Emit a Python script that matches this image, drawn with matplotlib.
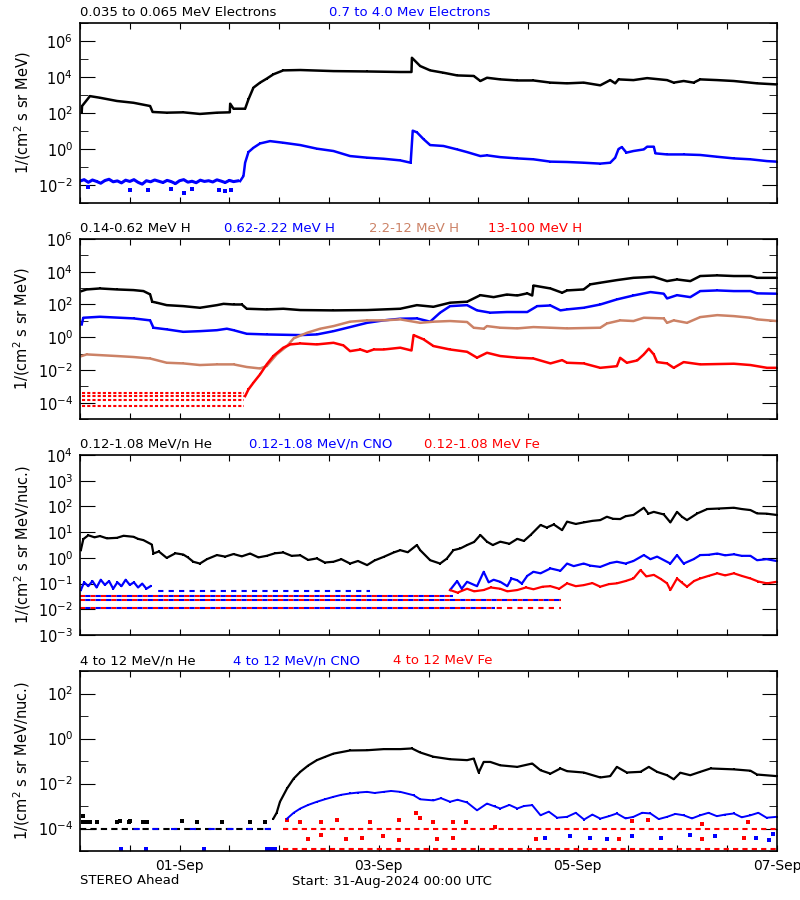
import numpy as np
import pandas as pd
import matplotlib
matplotlib.use('Agg')
import matplotlib.pyplot as plt
import matplotlib.dates as mdates
import matplotlib.ticker as mticker

# time range of the plot
start = pd.Timestamp('2024-08-31 00:00')
end = pd.Timestamp('2024-09-07 00:00')
date_labels = ['01-Sep', '03-Sep', '05-Sep', '07-Sep']

# all series: (hours since start, log10 of flux)

# --- panel 1: electrons
e_low = [(0.4, 2.02), (0.5, 2.39), (2.4, 2.94), (4.8, 2.85), (8.9, 2.67), (12.9, 2.57),
         (16.9, 2.39), (17.5, 2.06), (20.9, 2.02), (24.9, 2.04), (28.9, 1.95), (33.0, 2.02),
         (36.1, 2.04), (36.2, 2.52), (37.0, 2.24), (39.8, 2.24), (40.6, 2.76), (41.8, 3.41),
         (43.4, 3.69), (45.0, 3.91), (46.6, 4.15), (49.0, 4.37), (53.1, 4.39), (61.1, 4.33),
         (69.2, 4.31), (77.2, 4.28), (79.9, 4.28), (80.0, 5.07), (82.0, 4.61), (84.4, 4.37),
         (87.6, 4.24), (90.9, 4.09), (94.9, 4.06), (96.5, 3.78), (98.1, 3.96), (101.3, 3.87),
         (105.4, 3.81), (109.3, 3.81), (113.4, 3.69), (117.4, 3.65), (121.4, 3.69), (125.4, 3.54),
         (127.8, 3.83), (129.0, 3.65), (129.8, 3.87), (133.4, 3.83), (136.7, 3.94), (141.5, 3.83),
         (143.1, 3.69), (145.5, 3.78), (147.9, 3.69), (149.5, 3.87), (153.6, 3.83), (157.6, 3.78),
         (163.2, 3.65), (167.9, 3.59)]
e_high_bg = [(0, -1.78), (1, -1.70), (2, -1.85), (3, -1.72), (4, -1.80), (5, -1.90), (6, -1.75),
             (7, -1.68), (8, -1.82), (9, -1.77), (10, -1.88), (11, -1.73), (12, -1.80), (13, -1.70),
             (14, -1.85), (15, -1.95), (16, -1.76), (17, -1.82), (18, -1.72), (19, -1.79),
             (20, -1.86), (21, -1.74), (22, -1.81), (23, -1.92), (24, -1.76), (25, -1.70),
             (26, -1.84), (27, -1.79), (28, -1.87), (29, -1.73), (30, -1.80), (31, -1.76),
             (32, -1.83), (33, -1.71), (34, -1.78), (35, -1.86), (36, -1.74), (37, -1.81),
             (38, -1.77)]
e_high_out = [(2, -2.10), (12, -2.30), (16.5, -2.25), (22, -2.20), (25, -2.45), (27, -2.20),
              (33.5, -2.30), (35, -2.35), (36.5, -2.30)]
e_high = [(38.6, -1.78), (39.4, -1.50), (39.8, -0.76), (40.6, -0.17), (41.8, 0.07), (43.4, 0.31),
          (45.8, 0.44), (49.0, 0.35), (53.1, 0.22), (57.1, 0.02), (61.1, -0.11), (65.1, -0.39),
          (69.2, -0.48), (73.2, -0.54), (77.2, -0.63), (79.7, -0.76), (80.2, 1.02), (81.2, 0.93),
          (82.8, 0.55), (84.4, 0.22), (87.6, 0.17), (90.9, -0.02), (93.3, -0.17), (96.5, -0.39),
          (98.1, -0.35), (101.3, -0.45), (105.4, -0.52), (109.3, -0.57), (113.4, -0.70),
          (117.4, -0.72), (121.4, -0.76), (125.4, -0.81), (127.8, -0.76), (129.0, -0.48),
          (129.8, 0.0), (130.6, 0.11), (131.7, -0.20), (133.4, -0.11), (135.9, -0.02),
          (136.7, 0.13), (138.3, 0.13), (138.7, -0.24), (141.5, -0.30), (145.5, -0.30),
          (149.5, -0.33), (153.6, -0.43), (157.6, -0.52), (161.6, -0.57), (165.6, -0.67),
          (167.9, -0.70)]

# --- panel 2: protons
h_low = [(0.4, 2.82), (1.6, 2.92), (4.8, 2.98), (8.9, 2.92), (12.9, 2.88), (15.3, 2.82),
         (16.9, 2.62), (17.4, 2.17), (18.5, 2.11), (20.9, 1.96), (24.9, 1.90), (28.9, 1.80),
         (33.0, 1.96), (34.6, 2.04), (37.0, 2.00), (39.0, 2.00), (40.2, 1.74), (45.0, 1.70),
         (49.0, 1.74), (53.1, 1.66), (61.1, 1.64), (69.2, 1.66), (77.2, 1.74), (81.2, 1.96),
         (85.2, 1.86), (89.2, 2.11), (93.3, 2.17), (96.5, 2.57), (99.7, 2.45), (102.9, 2.61),
         (105.4, 2.55), (107.8, 2.68), (109.0, 2.55), (109.3, 3.16), (113.4, 2.98), (116.2, 2.72),
         (117.4, 2.86), (121.4, 2.92), (123.0, 3.23), (125.4, 3.33), (129.4, 3.49), (133.4, 3.63),
         (138.3, 3.69), (141.5, 3.43), (143.9, 3.53), (147.1, 3.43), (149.5, 3.74), (153.6, 3.78),
         (157.6, 3.74), (161.6, 3.74), (163.2, 3.63), (167.9, 3.63)]
h_mid = [(0.4, 0.78), (0.8, 1.19), (4.8, 1.25), (12.9, 1.15), (16.9, 1.03), (17.7, 0.58),
         (20.9, 0.48), (24.9, 0.33), (28.9, 0.37), (33.0, 0.43), (35.4, 0.52), (37.0, 0.43),
         (40.2, 0.21), (45.0, 0.17), (53.1, 0.13), (57.1, 0.17), (61.1, 0.37), (65.1, 0.62),
         (69.2, 0.88), (73.2, 1.03), (77.2, 1.13), (81.2, 1.15), (84.4, 0.95), (86.8, 1.50),
         (89.2, 1.90), (93.3, 1.96), (95.7, 1.64), (98.9, 1.50), (102.9, 1.54), (107.8, 1.54),
         (110.2, 1.90), (113.4, 1.94), (115.8, 1.64), (117.4, 1.70), (121.4, 1.80), (125.4, 2.00),
         (129.4, 2.31), (133.4, 2.55), (137.5, 2.76), (140.7, 2.66), (141.5, 2.37), (143.9, 2.57),
         (147.1, 2.45), (149.5, 2.82), (153.6, 2.86), (157.6, 2.82), (161.6, 2.82), (163.2, 2.68),
         (167.9, 2.66)]
h_high = [(0.4, -1.15), (1.6, -1.05), (8.9, -1.15), (12.9, -1.21), (16.9, -1.30), (20.9, -1.56),
          (24.9, -1.60), (28.9, -1.70), (33.0, -1.66), (37.0, -1.66), (40.2, -1.82), (43.4, -1.91),
          (45.0, -1.76), (47.4, -1.05), (49.9, -0.54), (51.5, -0.07), (54.7, 0.27), (57.9, 0.52),
          (61.1, 0.68), (65.1, 0.95), (69.2, 1.03), (73.2, 1.03), (77.2, 1.09), (82.0, 0.88),
          (85.2, 0.95), (89.2, 0.99), (93.3, 0.93), (94.9, 0.58), (97.3, 0.52), (98.1, 0.68),
          (101.3, 0.58), (105.4, 0.54), (109.3, 0.62), (113.4, 0.58), (117.4, 0.54), (125.4, 0.58),
          (127.0, 0.84), (130.2, 1.03), (133.4, 0.99), (135.9, 1.19), (140.7, 1.15), (141.5, 0.88),
          (143.1, 1.03), (146.3, 0.88), (149.5, 1.23), (153.6, 1.35), (157.6, 1.29), (161.6, 1.19),
          (163.2, 1.09), (167.9, 0.99)]
h_top = [(39.8, -3.60), (40.6, -3.19), (41.8, -2.78), (43.4, -2.27), (45.0, -1.66), (46.6, -1.15),
         (49.0, -0.64), (50.7, -0.44), (53.1, -0.38), (57.1, -0.44), (61.1, -0.34), (63.5, -0.50),
         (65.1, -0.85), (67.6, -0.75), (69.2, -0.89), (70.8, -0.75), (73.2, -0.75), (77.2, -0.64),
         (79.9, -0.81), (80.4, 0.13), (82.8, -0.13), (85.2, -0.54), (89.2, -0.75), (93.3, -0.89),
         (95.7, -1.25), (98.1, -0.95), (101.3, -1.15), (105.4, -1.25), (109.3, -1.30),
         (113.4, -1.60), (116.2, -1.40), (117.4, -1.56), (121.4, -1.60), (125.4, -1.87),
         (129.4, -1.77), (130.2, -1.26), (131.8, -1.56), (134.3, -1.42), (135.9, -1.05),
         (137.1, -0.70), (138.3, -1.05), (139.1, -1.52), (141.5, -1.60), (143.1, -1.87),
         (145.5, -1.52), (149.5, -1.66), (157.6, -1.62), (161.6, -1.70), (165.6, -1.87),
         (167.9, -1.87)]
# one-count levels (level, from hour, to hour)
h_top_floor = [(-3.43, 0.4, 39.5), (-3.60, 0.4, 39.5), (-3.82, 0.4, 39.5), (-4.19, 0.4, 39.5)]

# --- panel 3: low energy ions
he_low = [(0.2, 0.30), (0.8, 0.73), (2.0, 0.88), (3.5, 0.80), (4.8, 0.85), (6.5, 0.76), (8.9, 0.78),
          (10.5, 0.86), (12.9, 0.82), (14.0, 0.74), (15.3, 0.69), (17.3, 0.52), (17.7, 0.17),
          (19.0, 0.25), (20.9, 0.0), (23.0, 0.18), (24.9, 0.13), (26.0, 0.02), (27.3, -0.15),
          (28.9, -0.22), (30.6, -0.05), (33.0, 0.11), (35.0, 0.05), (37.0, 0.15), (39.0, 0.06),
          (41.0, 0.17), (43.0, 0.02), (45.0, 0.08), (47.0, 0.18), (49.0, 0.21), (51.0, 0.08),
          (53.1, 0.10), (55.0, -0.08), (57.1, -0.02), (59.0, -0.18), (61.1, -0.15), (63.0, -0.05),
          (65.1, -0.22), (67.0, -0.12), (69.2, -0.28), (71.0, -0.10), (73.2, 0.04), (75.6, 0.21),
          (77.2, 0.30), (79.0, 0.22), (81.2, 0.50), (82.0, 0.30), (84.4, -0.09), (86.8, -0.22),
          (88.4, -0.03), (90.0, 0.30), (91.7, 0.37), (93.3, 0.50), (95.0, 0.62), (96.5, 0.89),
          (98.1, 0.63), (99.5, 0.50), (101.3, 0.63), (103.5, 0.55), (105.4, 0.74), (107.0, 0.66),
          (108.6, 0.89), (111.0, 1.28), (112.5, 1.18), (114.2, 1.30), (116.2, 1.08), (117.4, 1.41),
          (119.5, 1.32), (121.4, 1.38), (123.5, 1.44), (125.4, 1.47), (127.0, 1.60), (128.5, 1.52),
          (130.2, 1.51), (131.5, 1.62), (133.4, 1.67), (135.9, 1.95), (137.0, 1.72), (138.3, 1.79),
          (140.7, 1.69), (142.3, 1.38), (143.9, 1.79), (145.1, 1.60), (146.3, 1.47), (148.8, 1.73),
          (151.2, 1.90), (154.0, 1.92), (157.6, 1.95), (159.5, 1.90), (161.6, 1.86), (163.2, 1.73),
          (165.5, 1.72), (167.9, 1.67)]
cno_low = [(0.2, -1.25), (1, -0.95), (2, -1.10), (3, -0.90), (4, -1.15), (5, -0.85), (6, -1.05),
           (7, -0.90), (8, -1.20), (9, -0.95), (10, -1.10), (11, -0.85), (12, -1.05), (13, -0.95),
           (14, -1.15), (15, -1.00), (16, -1.20), (17, -1.10)]
cno_low_late = [(89.2, -1.25), (90.9, -0.90), (92.0, -1.20), (93.3, -0.93), (95.7, -1.10),
                (97.3, -0.54), (98.5, -0.95), (99.7, -0.85), (101.3, -0.93), (103.0, -1.10),
                (104.0, -0.80), (105.4, -0.87), (106.5, -1.00), (107.8, -0.70), (109.3, -0.54),
                (111.0, -0.60), (113.4, -0.41), (115.8, -0.50), (117.4, -0.22), (119.0, -0.32),
                (121.4, -0.22), (123.0, -0.30), (125.4, -0.35), (127.8, -0.20), (129.4, -0.15),
                (131.5, -0.22), (133.4, -0.12), (135.9, 0.11), (137.5, -0.05), (139.1, 0.05),
                (142.3, -0.22), (143.9, 0.11), (145.5, -0.22), (147.9, -0.05), (149.5, 0.11),
                (151.5, 0.12), (153.6, 0.17), (155.5, 0.10), (157.6, 0.14), (159.5, 0.08),
                (161.6, 0.08), (163.2, -0.09), (165.5, -0.05), (167.9, -0.12)]
fe_low = [(89.2, -1.25), (91.0, -1.35), (93.3, -1.20), (95.0, -1.30), (97.3, -1.25), (99.0, -1.15),
          (101.3, -1.20), (103.0, -1.30), (105.4, -1.25), (107.5, -1.15), (109.3, -1.22),
          (111.5, -1.12), (113.4, -1.10), (115.5, -1.20), (117.4, -0.99), (119.5, -1.10),
          (121.4, -1.06), (123.5, -0.98), (125.4, -1.12), (127.5, -1.02), (129.4, -0.99),
          (131.5, -0.90), (133.4, -0.80), (135.1, -0.47), (136.5, -0.72), (138.3, -0.66),
          (140.0, -0.82), (141.5, -0.99), (142.3, -1.25), (143.9, -0.80), (145.0, -0.95),
          (146.3, -1.12), (148.0, -0.90), (149.5, -0.80), (151.5, -0.70), (153.6, -0.60),
          (155.5, -0.68), (157.6, -0.60), (159.5, -0.70), (161.6, -0.80), (163.5, -0.92),
          (165.6, -0.99), (167.9, -0.93)]
fe_low_floor = [(-1.47, 0.0, 90.0), (-1.62, 0.0, 116.0), (-1.94, 0.0, 116.0)]
cno_low_floor = [(-1.28, 17.5, 70.0), (-1.47, 0.0, 90.0), (-1.62, 0.0, 116.0), (-1.94, 0.0, 100.0)]

# --- panel 4: high energy ions
he_high = [(46.6, -3.56), (47.4, -3.30), (48.2, -2.81), (49.9, -2.22), (51.5, -1.78), (53.1, -1.48),
           (55.0, -1.20), (57.1, -0.96), (59.0, -0.82), (61.1, -0.67), (65.1, -0.53), (69.2, -0.52),
           (73.2, -0.47), (77.2, -0.47), (80.0, -0.44), (82.0, -0.62), (85.2, -0.81), (89.2, -0.92),
           (93.3, -0.96), (94.9, -0.89), (96.1, -1.51), (97.3, -1.04), (98.9, -1.04), (101.3, -1.19),
           (105.4, -1.26), (109.0, -1.11), (111.0, -1.41), (113.4, -1.56), (115.8, -1.33),
           (117.4, -1.45), (121.4, -1.51), (125.4, -1.73), (127.8, -1.67), (129.4, -1.26),
           (131.8, -1.51), (135.1, -1.48), (137.1, -1.26), (139.1, -1.48), (141.5, -1.63),
           (143.1, -1.81), (144.7, -1.52), (147.1, -1.63), (149.5, -1.48), (152.0, -1.33),
           (157.6, -1.37), (161.6, -1.43), (163.2, -1.60), (167.9, -1.67)]
he_high_pts = [(0.8, -3.45), (0.8, -3.70), (1.6, -3.70), (2.4, -3.70), (4.0, -3.70), (8.9, -3.70),
               (9.7, -3.65), (11.7, -3.70), (12.1, -3.65), (15.3, -3.70), (16.1, -3.70),
               (24.5, -3.65), (28.1, -3.70), (34.2, -3.70), (41.0, -3.70), (44.5, -3.70)]
he_high_floor = [(-4.0, 0.0, 46.0)]
cno_high = [(49.9, -3.56), (51.5, -3.30), (53.1, -3.11), (55.0, -2.95), (57.1, -2.81), (59.0, -2.70),
            (61.1, -2.59), (63.0, -2.50), (65.1, -2.44), (67.0, -2.40), (69.2, -2.37), (71.0, -2.42),
            (73.2, -2.37), (75.0, -2.33), (77.2, -2.37), (80.4, -2.52), (82.0, -2.70), (85.2, -2.75),
            (87.0, -2.65), (89.2, -2.81), (91.0, -2.72), (93.3, -2.84), (95.7, -3.19), (98.1, -2.89),
            (100.0, -3.02), (101.3, -3.11), (103.5, -2.95), (105.4, -3.11), (107.0, -3.00),
            (109.0, -2.96), (111.0, -3.41), (113.0, -3.25), (115.0, -3.52), (117.4, -3.48),
            (119.5, -3.30), (121.5, -3.60), (123.5, -3.38), (125.4, -3.56), (127.5, -3.45),
            (129.4, -3.33), (131.5, -3.55), (133.4, -3.48), (135.5, -3.30), (137.5, -3.33),
            (139.5, -3.58), (141.5, -3.48), (143.5, -3.35), (145.5, -3.41), (147.5, -3.55),
            (149.5, -3.41), (151.5, -3.30), (153.5, -3.45), (155.5, -3.38), (157.6, -3.33),
            (159.5, -3.50), (161.6, -3.41), (163.5, -3.30), (165.5, -3.52), (167.9, -3.48)]
cno_high_pts = [(10, -4.89), (16, -4.89), (30, -4.89), (45, -4.89), (46, -4.89), (47, -4.89),
                (112, -4.40), (118, -4.35), (123, -4.40), (127, -4.45), (133, -4.35), (140, -4.40),
                (147, -4.30), (153, -4.35), (163, -4.40), (166, -4.50), (167, -4.25)]
cno_high_floor = [(-4.0, 10.0, 50.0)]
fe_high_pts = [(50, -3.60), (53, -3.70), (58, -3.70), (62, -3.62), (70, -3.70), (77, -3.60),
               (81, -3.30), (82, -3.55), (85, -3.72), (90, -3.72), (93, -3.70), (100, -3.95),
               (133, -3.65), (137, -3.62), (150, -3.80), (161, -3.70), (55, -4.45), (58, -4.30),
               (64, -4.45), (68, -4.40), (73, -4.35), (77, -4.50), (86, -4.45), (90, -4.40),
               (110, -4.45), (130, -4.45), (150, -4.45), (160, -4.40)]
fe_high_floor = [(-4.0, 49.0, 168.0), (-4.89, 49.0, 168.0)]


def times(pts):
    return start + pd.to_timedelta([p[0] for p in pts], unit='h')


def flux(pts):
    return 10.0 ** np.array([p[1] for p in pts])


def trace(ax, pts, color, lw=1.8):
    ax.plot(times(pts), flux(pts), color=color, lw=lw, marker='s', ms=1.6, mew=0)


def dots(ax, pts, color):
    ax.plot(times(pts), flux(pts), ls='none', color=color, marker='s', ms=3.0, mew=0)


def floor(ax, rows, color, offset=0, dash=(2.5, 1.5)):
    for lv, t0, t1 in rows:
        pts = [(t0, lv), (t1, lv)]
        ax.plot(times(pts), flux(pts), color=color, lw=1.5, ls=(offset, dash))


BROWN = '#cc8266'

fig = plt.figure(figsize=(8, 9), dpi=100)
bottoms = [0.7744, 0.5344, 0.2944, 0.0544]
axes = [fig.add_axes([0.1, b, 0.87125, 0.2]) for b in bottoms]

# panel 1
ax = axes[0]
trace(ax, e_low, 'black')
trace(ax, e_high_bg, 'blue', lw=2.2)
dots(ax, e_high_out, 'blue')
trace(ax, e_high, 'blue')

# panel 2
ax = axes[1]
floor(ax, h_top_floor, 'red', dash=(1.5, 1.0))
trace(ax, h_low, 'black')
trace(ax, h_mid, 'blue')
trace(ax, h_high, BROWN)
trace(ax, h_top, 'red')

# panel 3
ax = axes[2]
floor(ax, fe_low_floor, 'red', dash=(2.5, 2.5))
floor(ax, cno_low_floor, 'blue', offset=2.5, dash=(2.5, 2.5))
trace(ax, he_low, 'black', lw=1.6)
trace(ax, cno_low, 'blue', lw=1.6)
trace(ax, cno_low_late, 'blue', lw=1.6)
trace(ax, fe_low, 'red', lw=1.6)

# panel 4
ax = axes[3]
floor(ax, he_high_floor, 'black', dash=(3, 2))
floor(ax, cno_high_floor, 'blue', offset=3, dash=(3, 6))
floor(ax, fe_high_floor, 'red', dash=(2.5, 2))
dots(ax, he_high_pts, 'black')
dots(ax, cno_high_pts, 'blue')
dots(ax, fe_high_pts, 'red')
trace(ax, he_high, 'black', lw=1.6)
trace(ax, cno_high, 'blue', lw=1.4)

ylims = [(-3, 7), (-5, 6), (-3, 4), (-5, 3)]
ylabels = ['1/(cm$^2$ s sr MeV)', '1/(cm$^2$ s sr MeV)',
           '1/(cm$^2$ s sr MeV/nuc.)', '1/(cm$^2$ s sr MeV/nuc.)']


def xfmt(x, pos):
    s = mdates.num2date(x).strftime('%d-%b')
    return s if s in date_labels and mdates.num2date(x).hour == 0 else ''


for i, ax in enumerate(axes):
    lo, hi = ylims[i]
    ax.set_yscale('log')
    ax.set_ylim(10.0 ** lo, 10.0 ** hi)
    if i == 2:
        major = [10.0 ** k for k in range(lo, hi + 1)]
        minor = []
    else:
        major = [10.0 ** k for k in range(lo, hi + 1) if k % 2 == 0]
        minor = [10.0 ** k for k in range(lo, hi + 1) if k % 2 != 0]
    ax.yaxis.set_major_locator(mticker.FixedLocator(major))
    ax.yaxis.set_minor_locator(mticker.FixedLocator(minor))
    ax.yaxis.set_major_formatter(mticker.LogFormatterMathtext())
    ax.yaxis.set_minor_formatter(mticker.NullFormatter())
    ax.set_xlim(start, end)
    ax.xaxis.set_major_locator(mdates.HourLocator(byhour=[0, 12]))
    if i == 3:
        ax.xaxis.set_major_formatter(mticker.FuncFormatter(xfmt))
    else:
        ax.xaxis.set_major_formatter(mticker.NullFormatter())
    ax.tick_params(which='both', direction='in', top=True, right=True)
    ax.tick_params(axis='y', labelsize=10.5)
    ax.tick_params(axis='x', length=4, pad=6, labelsize=10)
    ax.tick_params(axis='y', which='major', length=10.5, pad=5)
    ax.tick_params(axis='y', which='minor', length=5.8)
    ax.set_ylabel(ylabels[i], fontsize=10.5, labelpad=4)
    for sp in ax.spines.values():
        sp.set_linewidth(1.2)

# legends written above each panel, like the original
titles = [
    [('0.035 to 0.065 MeV Electrons', 'black', 80), ('0.7 to 4.0 Mev Electrons', 'blue', 329)],
    [('0.14-0.62 MeV H', 'black', 80), ('0.62-2.22 MeV H', 'blue', 224),
     ('2.2-12 MeV H', BROWN, 369), ('13-100 MeV H', 'red', 488)],
    [('0.12-1.08 MeV/n He', 'black', 80), ('0.12-1.08 MeV/n CNO', 'blue', 249),
     ('0.12-1.08 MeV Fe', 'red', 424)],
    [('4 to 12 MeV/n He', 'black', 80), ('4 to 12 MeV/n CNO', 'blue', 233),
     ('4 to 12 MeV Fe', 'red', 393)],
]
title_y = [13, 229, 444, 661]
for row, y in zip(titles, title_y):
    for txt, c, x in row:
        fig.text(x / 800, 1 - y / 900, txt, color=c, fontsize=9.5, va='center', ha='left')

fig.text(80 / 800, 1 - 881 / 900, 'STEREO Ahead', fontsize=9.5, va='center')
fig.text(292 / 800, 1 - 881 / 900, 'Start: 31-Aug-2024 00:00 UTC', fontsize=9.5, va='center')

fig.savefig('out.png', dpi=100)
